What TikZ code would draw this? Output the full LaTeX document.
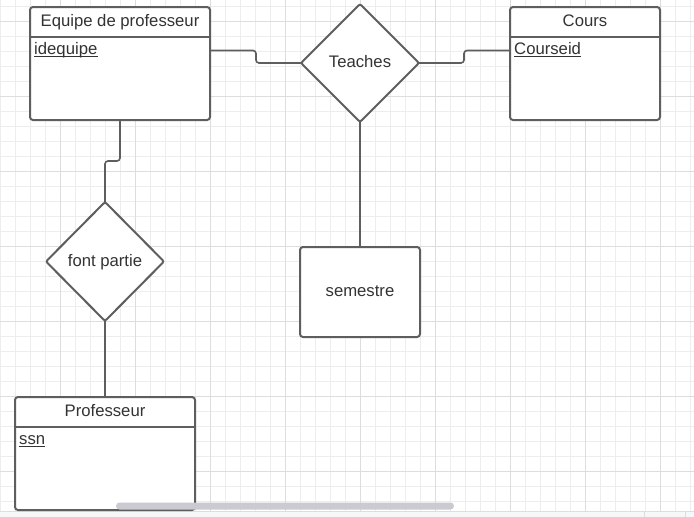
\documentclass[tikz,border=0pt]{standalone}
\usepackage{fontspec}
\setmainfont{Liberation Sans}
\definecolor{edge}{HTML}{5E5E5E}
\definecolor{txt}{HTML}{333333}
\definecolor{gminor}{HTML}{EDEDED}
\definecolor{gmajor}{HTML}{DDDDDD}
\definecolor{strip}{HTML}{F6F7F9}
\definecolor{scroll}{HTML}{C9CBD0}
\begin{document}
\begin{tikzpicture}[x=1pt,y=-1pt,
  shp/.style={draw=edge,line width=2pt,fill=white,rounded corners=3pt},
  conn/.style={draw=edge,line width=1.6pt,rounded corners=3pt},
  lbl/.style={text=txt,font=\fontsize{16.7}{20}\selectfont,inner sep=0pt},
  ulbl/.style={lbl,anchor=base west},
  ulin/.style={draw=txt,line width=1pt}
]
\useasboundingbox (0,0) rectangle (694,517);
\fill[white] (0,0) rectangle (694,517);
% grid
\foreach \x in {0.5,15.5,...,694} \draw[gminor,line width=0.8pt] (\x,0) -- (\x,511);
\foreach \y in {6,21,...,511} \draw[gminor,line width=0.8pt] (0,\y) -- (694,\y);
\foreach \x in {60.5,135.5,...,694} \draw[gmajor,line width=0.8pt] (\x,0) -- (\x,511);
\foreach \y in {21,96,...,511} \draw[gmajor,line width=0.8pt] (0,\y) -- (694,\y);
% bottom strip
\fill[strip] (0,511) rectangle (694,517);
\draw[gmajor,line width=0.6pt] (0,511) -- (694,511);
\draw[gmajor,line width=0.6pt] (644.5,511) -- (644.5,517);
\draw[gmajor,line width=0.6pt] (685.5,511) -- (685.5,517);

% connectors (behind shapes)
\coordinate (eqR) at (210,50.5);
\coordinate (eqB) at (120,120);
\coordinate (coR) at (510,50.5);
\coordinate (tL) at (301,63);
\coordinate (tR) at (419,63);
\coordinate (tB) at (360,122);
\coordinate (sT) at (360,247);
\coordinate (fT) at (105,202);
\coordinate (fB) at (105,321);
\coordinate (pT) at (105,397);
\draw[conn] (eqR) -- (256,50.5) -- (256,63) -- (tL);
\draw[conn] (tR) -- (464,63) -- (464,50.5) -- (coR);
\draw[conn] (tB) -- (sT);
\draw[conn] (eqB) -- (120,161) -- (105,161) -- (fT);
\draw[conn] (fB) -- (pT);

% Equipe de professeur
\draw[shp] (30,7) rectangle (210,120);
\draw[edge,line width=2pt] (30,37) -- (210,37);
\node[lbl,anchor=base] (eqT) at (120,26) {Equipe de professeur};
\node[ulbl] (eqA) at (34,54) {idequipe};
\draw[ulin] ([yshift=-2.5pt]eqA.base west) -- ([yshift=-2.5pt]eqA.base east);

% Cours
\draw[shp] (510,7) rectangle (660,120);
\draw[edge,line width=2pt] (510,37) -- (660,37);
\node[lbl,anchor=base] (coT) at (585,26) {Cours};
\node[ulbl] (coA) at (514,54) {Courseid};
\draw[ulin] ([yshift=-2.5pt]coA.base west) -- ([yshift=-2.5pt]coA.base east);

% Professeur
\draw[shp] (15,397) rectangle (195,510);
\draw[edge,line width=2pt] (15,427) -- (195,427);
\node[lbl,anchor=base] (prT) at (105,416) {Professeur};
\node[ulbl] (prA) at (19,444) {ssn};
\draw[ulin] ([yshift=-2.5pt]prA.base west) -- ([yshift=-2.5pt]prA.base east);

% Teaches diamond
\draw[shp,rounded corners=2pt] (360,4) -- (419,63) -- (360,122) -- (301,63) -- cycle;
\node[lbl,anchor=base] (teach) at (360,67) {Teaches};

% font partie diamond
\draw[shp,rounded corners=2pt] (105,202) -- (164,261.5) -- (105,321) -- (46,261.5) -- cycle;
\node[lbl,anchor=base] (fp) at (105,266) {font partie};

% semestre
\draw[shp] (300,247) rectangle (420,337);
\node[lbl,anchor=base] (sem) at (360,296) {semestre};

% scrollbar
\fill[scroll,rounded corners=3.5pt] (116,502.5) rectangle (454,509.5);
\end{tikzpicture}
\end{document}
